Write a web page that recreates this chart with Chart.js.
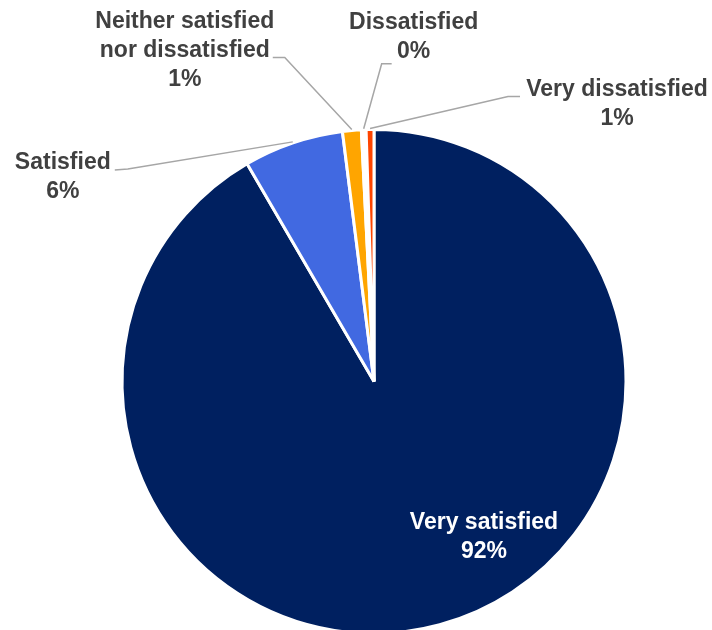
<!DOCTYPE html>
<html>
<head>
<meta charset="utf-8">
<script src="https://cdn.jsdelivr.net/npm/chart.js@4"></script>
<style>
html,body{margin:0;padding:0;background:#fff;overflow:hidden;}
#wrap{width:712px;height:640px;}
</style>
</head>
<body>
<div id="wrap"><canvas id="c" width="712" height="640"></canvas></div>
<script>
// ---- data ----
const categories = ["Very satisfied", "Satisfied", "Neither satisfied nor dissatisfied", "Dissatisfied", "Very dissatisfied"];
const values = [91.6, 6.4, 1.2, 0.3, 0.5];
const percentLabels = ["92%", "6%", "1%", "0%", "1%"];
const labelLines = [["Very satisfied"], ["Satisfied"], ["Neither satisfied", "nor dissatisfied"], ["Dissatisfied"], ["Very dissatisfied"]];

// ---- style / layout ----
const colors = ["#002060", "#4169E1", "#FFA500", "#FFFFFF", "#FF4500"];
const textColor = "#404040";
const leaderColor = "#A6A6A6";
const FONT = "bold 23px 'Liberation Sans', Arial, sans-serif";
const LINE_H = 29;
// offsets relative to slice anchor point (outer edge at mid angle); inside label relative to pie centre
const labelLayout = [
  {inside: true, dx: 110, dy: 141},
  {label: [-230, 21], elbow: [-165, 27], end: [-178, 28]},
  {label: [-167, -108], elbow: [-67, -72], end: [-79, -72]},
  {label: [50, -106], elbow: [18, -65], end: [28, -65]},
  {label: [247, -39], elbow: [138, -32], end: [150, -32]}
];

const labelPlugin = {
  id: 'pieLabels',
  afterDatasetsDraw(chart) {
    const ctx = chart.ctx;
    const meta = chart.getDatasetMeta(0);
    ctx.save();
    ctx.font = FONT;
    ctx.textAlign = 'center';
    ctx.textBaseline = 'middle';
    meta.data.forEach((arc, i) => {
      const p = arc.getProps(['x', 'y', 'startAngle', 'endAngle', 'outerRadius'], true);
      const lay = labelLayout[i];
      const lines = labelLines[i].concat([percentLabels[i]]);
      if (lay.inside) {
        ctx.fillStyle = '#FFFFFF';
        lines.forEach((t, k) => ctx.fillText(t, p.x + lay.dx, p.y + lay.dy + k * LINE_H));
        return;
      }
      const mid = (p.startAngle + p.endAngle) / 2;
      const r = p.outerRadius + 1;
      const ax = p.x + Math.cos(mid) * r;
      const ay = p.y + Math.sin(mid) * r;
      ctx.strokeStyle = leaderColor;
      ctx.lineWidth = 1.5;
      ctx.beginPath();
      ctx.moveTo(ax, ay);
      ctx.lineTo(ax + lay.elbow[0], ay + lay.elbow[1]);
      ctx.lineTo(ax + lay.end[0], ay + lay.end[1]);
      ctx.stroke();
      ctx.fillStyle = textColor;
      lines.forEach((t, k) => ctx.fillText(t, ax + lay.label[0], ay + lay.label[1] + k * LINE_H));
    });
    ctx.restore();
  }
};

new Chart(document.getElementById('c'), {
  type: 'pie',
  data: {
    labels: categories,
    datasets: [{
      data: values,
      backgroundColor: colors,
      borderColor: '#FFFFFF',
      borderWidth: 3
    }]
  },
  options: {
    responsive: false,
    animation: false,
    layout: {padding: {top: 128, bottom: 5, left: 36, right: 0}},
    plugins: {legend: {display: false}, tooltip: {enabled: false}}
  },
  plugins: [labelPlugin]
});
</script>
</body>
</html>
